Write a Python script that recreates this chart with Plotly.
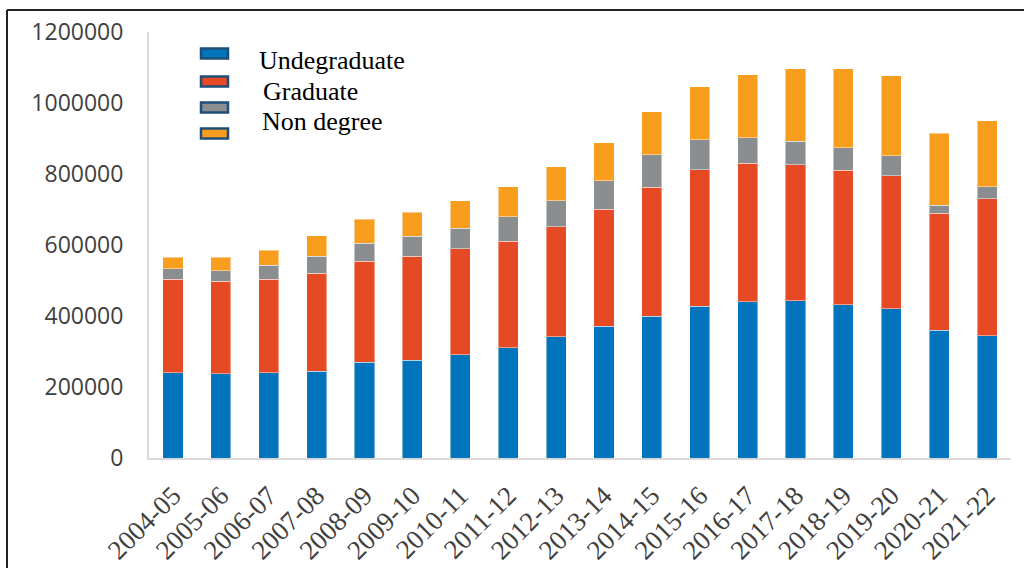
import plotly.graph_objects as go

years = ["2004-05", "2005-06", "2006-07", "2007-08", "2008-09", "2009-10",
         "2010-11", "2011-12", "2012-13", "2013-14", "2014-15", "2015-16",
         "2016-17", "2017-18", "2018-19", "2019-20", "2020-21", "2021-22"]

undergraduate = [239700, 237800, 239700, 244200, 269600, 275200, 291200, 310000, 341000,
                 370900, 399000, 427100, 439500, 443200, 431900, 419800, 359600, 344700]
graduate = [264500, 259700, 264500, 276900, 284100, 292600, 298300, 300000, 311000,
            330300, 363000, 385500, 391100, 383500, 379000, 375100, 330300, 386300]
non_degree = [29000, 30100, 38300, 46700, 51800, 56300, 57100, 69500, 73000,
              79600, 92800, 84400, 72100, 65800, 62800, 57100, 21400, 32900]
opt = [32900, 38500, 42200, 58300, 67500, 67600, 77900, 85300, 96000,
       107000, 121000, 148300, 177200, 203500, 222300, 225100, 203700, 185700]

legend_names = ["Undegraduate", "Graduate", "Non degree"]
colors = ["#0174BC", "#E64A25", "#8A8E90", "#F89D1E"]
series = [undergraduate, graduate, non_degree, opt]

y_ticks = [0, 200000, 400000, 600000, 800000, 1000000, 1200000]

fig = go.Figure()
for vals, col in zip(series, colors):
    fig.add_trace(go.Bar(
        x=years, y=vals, marker=dict(color=col, line=dict(color="rgba(255,255,255,0.45)", width=1)),
        showlegend=False,
    ))

# plot area in pixels
L, R, T, B = 149, 1011, 32, 458.5
W, H = 1024, 568
pw, ph = R - L, B - T


def px(xp):
    return (xp - L) / pw


def py(yp):
    return (B - yp) / ph


shapes = []
# outer frame (top and left edges visible)
shapes.append(dict(type="line", xref="paper", yref="paper", x0=px(7), x1=px(1030), y0=py(10), y1=py(10),
                   line=dict(color="#222222", width=2)))
shapes.append(dict(type="line", xref="paper", yref="paper", x0=px(7), x1=px(7), y0=py(10), y1=py(575),
                   line=dict(color="#222222", width=2)))

# custom legend symbols
sym_y = [53.5, 81.5, 107.5, 133.5]
for cy, col in zip(sym_y, colors):
    shapes.append(dict(type="rect", xref="paper", yref="paper",
                       x0=px(201), x1=px(228), y0=py(cy - 5), y1=py(cy + 5),
                       fillcolor=col, line=dict(color="#1F4E79", width=2.5)))

annotations = []
text_y = [61, 92, 122]
text_x = [257, 261, 260]
for name, ty, tx in zip(legend_names, text_y, text_x):
    annotations.append(dict(text=name, xref="paper", yref="paper", x=px(tx), y=py(ty),
                            xanchor="left", yanchor="middle", showarrow=False,
                            font=dict(family="Liberation Serif", size=26, color="#000000")))

fig.update_layout(
    barmode="stack",
    bargap=0.58,
    width=W, height=H,
    margin=dict(l=L, r=W - R, t=T, b=H - B, pad=0, autoexpand=False),
    paper_bgcolor="white", plot_bgcolor="white",
    shapes=shapes, annotations=annotations,
    showlegend=False,
    xaxis=dict(
        type="category", automargin=False,
        showline=True, linecolor="#D9D9D9", linewidth=2,
        showgrid=False, ticks="", tickangle=-45,
        tickfont=dict(family="Liberation Serif", size=27, color="#404040"),
        ticklabelstandoff=9,
    ),
    yaxis=dict(
        range=[0, 1200000], tickvals=y_ticks, ticktext=[str(v) for v in y_ticks],
        automargin=False,
        showline=True, linecolor="#D9D9D9", linewidth=2,
        showgrid=False, ticks="", zeroline=False,
        tickfont=dict(family="Open Sans", size=23, color="#404040"),
        ticklabelstandoff=19,
    ),
)

fig.write_html("out.html", config={"displayModeBar": False},
               post_script="document.body.style.margin='0';document.body.style.overflow='hidden';")
